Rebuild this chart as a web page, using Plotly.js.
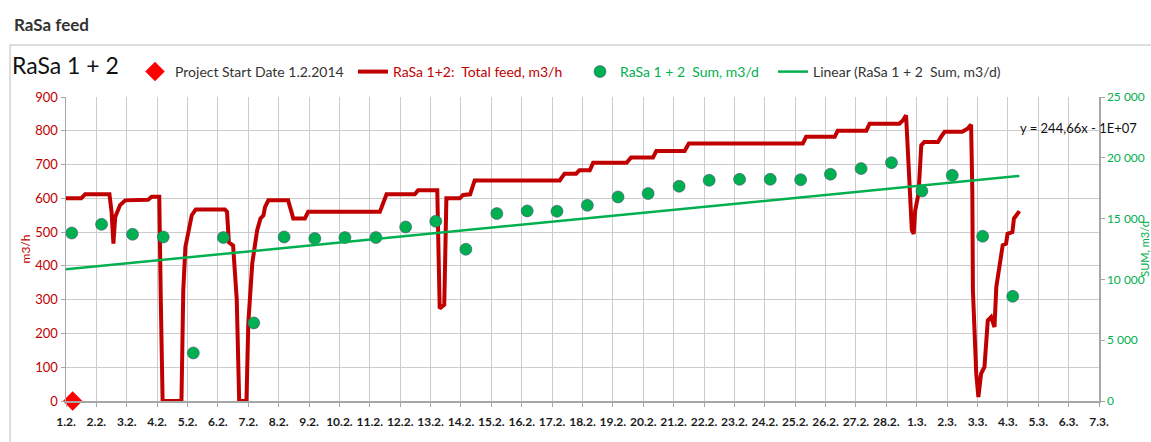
<!DOCTYPE html>
<html>
<head>
<meta charset="utf-8">
<script src="https://cdn.plot.ly/plotly-3.0.1.min.js"></script>
<style>html,body{margin:0;padding:0;background:#fff;}#chart{width:1151px;height:442px;}</style>
</head>
<body>
<div id="chart"></div>
<script>
// ---- data (x = days since 1.2.2014) ----
var tickLabels = ["1.2.","2.2.","3.2.","4.2.","5.2.","6.2.","7.2.","8.2.","9.2.","10.2.","11.2.","12.2.","13.2.","14.2.","15.2.","16.2.","17.2.","18.2.","19.2.","20.2.","21.2.","22.2.","23.2.","24.2.","25.2.","26.2.","27.2.","28.2.","1.3.","2.3.","3.3.","4.3.","5.3.","6.3.","7.3."];
var tickDays = [0,1,2,3,4,5,6,7,8,9,10,11,12,13,14,15,16,17,18,19,20,21,22,23,24,25,26,27,28,29,30,31,32,33,34];

var startX = [0.22];
var startY = [0];

var feedX = [0,0.5,0.63,1.43,1.5,1.56,1.62,1.78,1.95,2.7,2.82,3.07,3.12,3.18,3.8,3.86,3.93,3.98,4.05,4.14,4.27,5.23,5.3,5.36,5.5,5.62,5.7,5.94,6.0,6.13,6.29,6.4,6.5,6.55,6.66,7.31,7.42,7.48,7.86,7.97,10.33,10.55,11.48,11.59,12.22,12.27,12.3,12.45,12.52,12.96,13.07,13.3,13.45,16.25,16.41,16.79,16.9,17.24,17.35,18.45,18.6,19.32,19.43,20.36,20.5,24.25,24.36,25.3,25.4,26.34,26.45,27.43,27.55,27.65,27.72,27.84,27.9,27.95,28.06,28.15,28.25,28.7,28.8,28.92,29.5,29.67,29.79,29.83,29.85,29.96,30.03,30.12,30.23,30.34,30.45,30.56,30.62,30.72,30.83,30.94,30.99,31.15,31.2,31.38];
var feedY = [600,600,612,612,560,466,545,580,594,596,605,605,300,0,0,328,456,480,505,550,567,567,560,470,460,300,0,0,229,407,505,540,550,574,594,594,560,540,540,560,560,612,612,624,624,400,274,285,600,600,610,612,653,653,673,673,683,683,705,705,721,721,740,740,762,762,782,782,800,800,821,821,831,846,723,506,495,564,614,757,767,767,782,797,797,806,818,624,327,81,12,81,101,239,249,219,338,407,461,466,495,500,540,562];

var sumX = [0.19,1.17,2.19,3.2,4.19,5.18,6.18,7.18,8.19,9.18,10.2,11.18,12.17,13.16,14.18,15.18,16.16,17.16,18.17,19.16,20.18,21.17,22.17,23.18,24.18,25.16,26.17,27.17,28.17,29.17,30.17,31.16];
var sumY = [13810,14530,13710,13490,3950,13440,6420,13490,13360,13440,13440,14310,14780,12480,15410,15630,15600,16090,16780,17060,17660,18150,18230,18230,18200,18650,19110,19600,17270,18560,13550,8610];

var trendX = [0, 31.38];
var trendY = [10830, 18510];

// ---- styling ----
var FONT = "Lato, Liberation Sans, sans-serif";
var RED = "#C00000", GREEN = "#00B050", GRID = "#cccccc";

var traces = [
  {x: startX, y: startY, type: "scatter", mode: "markers", name: "Project Start Date 1.2.2014",
   marker: {symbol: "diamond", size: 15, color: "#FF0000"}, cliponaxis: false, legend: "legend"},
  {x: feedX, y: feedY, type: "scatter", mode: "lines", name: "RaSa 1+2:  Total feed, m3/h",
   line: {color: RED, width: 4}, legend: "legend2"},
  {x: sumX, y: sumY, type: "scatter", mode: "markers", name: "RaSa 1 + 2  Sum, m3/d", yaxis: "y2",
   marker: {color: GREEN, size: 12, line: {color: "rgba(70,70,120,0.55)", width: 1}}, legend: "legend3"},
  {x: trendX, y: trendY, type: "scatter", mode: "lines", name: "Linear (RaSa 1 + 2  Sum, m3/d)", yaxis: "y2",
   line: {color: GREEN, width: 2.5}, legend: "legend4"}
];

function lg(xpx, color) {
  return {orientation: "h", x: (xpx - 66) / 1033, xanchor: "left", y: (401 - 72) / 304, yanchor: "middle",
          font: {family: FONT, size: 14, color: color}, bgcolor: "rgba(0,0,0,0)", itemwidth: 30};
}

var layout = {
  width: 1151, height: 442,
  margin: {l: 66, r: 52, t: 97, b: 41},
  paper_bgcolor: "#fff", plot_bgcolor: "#fff",
  separators: ", ",
  font: {family: FONT, size: 12, color: "#222"},
  title: {text: "RaSa 1 + 2", x: 12 / 1151, xanchor: "left", xref: "container", y: 1 - 66 / 442, yanchor: "middle", yref: "container",
          font: {family: FONT, size: 23, color: "#111"}},
  showlegend: true,
  legend: lg(135, "#333"),
  legend2: lg(353, RED),
  legend3: lg(580, GREEN),
  legend4: lg(773, "#333"),
  xaxis: {range: [0, 34], tickmode: "array", tickvals: tickDays, ticktext: tickLabels,
          showgrid: true, gridcolor: GRID, gridwidth: 1, zeroline: false,
          showline: true, linecolor: "#a6a6a6", linewidth: 1.5, ticks: "outside", ticklen: 4, tickcolor: "#a6a6a6",
          ticklabelstandoff: 5,
          tickfont: {family: FONT, size: 12, color: "#1a1a1a", weight: 700}, fixedrange: true},
  yaxis: {range: [0, 900], dtick: 100, tick0: 0, showgrid: true, gridcolor: GRID, gridwidth: 1, zeroline: false,
          showline: true, linecolor: "#a6a6a6", linewidth: 1.5, ticks: "outside", ticklen: 4, tickcolor: "#a6a6a6",
          tickfont: {family: FONT, size: 13, color: RED},
          title: {text: "m3/h", font: {family: FONT, size: 12, color: RED}, standoff: 2}},
  yaxis2: {range: [0, 25000], dtick: 5000, tick0: 0, overlaying: "y", side: "right", showgrid: false, zeroline: false,
           tickformat: ",d", separatethousands: true,
           showline: true, linecolor: "#a6a6a6", linewidth: 1.5, ticks: "outside", ticklen: 4, tickcolor: "#a6a6a6",
           tickfont: {family: FONT, size: 12, color: GREEN},
           title: {text: "SUM, m3/d", font: {family: FONT, size: 11, color: GREEN}, standoff: 4}},
  annotations: [
    {text: "<b>RaSa feed</b>", xref: "paper", yref: "paper", x: (12 - 66) / 1033, y: (401 - 25) / 304,
     xanchor: "left", yanchor: "middle", showarrow: false, font: {family: FONT, size: 17, color: "#333"}},
    {text: "y = 244,66x - 1E+07", xref: "paper", yref: "paper", x: (1018 - 66) / 1033, y: (401 - 128) / 304,
     xanchor: "left", yanchor: "middle", showarrow: false, font: {family: FONT, size: 13, color: "#111"}}
  ],
  shapes: [
    {type: "rect", xref: "paper", yref: "paper", x0: (10 - 66) / 1033, x1: (1160 - 66) / 1033,
     y0: (401 - 460) / 304, y1: (401 - 45) / 304, line: {color: "#d4d4d4", width: 1.5}, layer: "below"}
  ]
};

Plotly.newPlot("chart", traces, layout, {displayModeBar: false, staticPlot: true});
</script>
</body>
</html>
